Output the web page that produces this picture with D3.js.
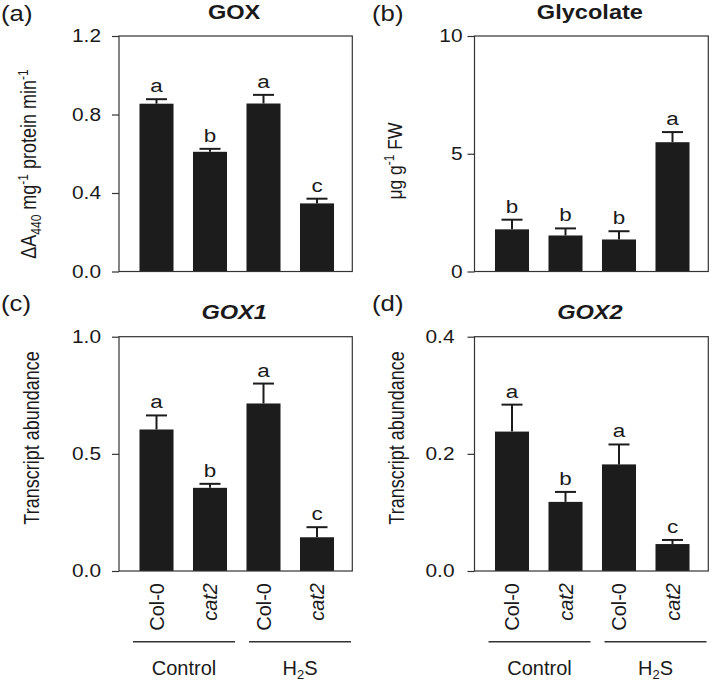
<!DOCTYPE html>
<html><head><meta charset="utf-8">
<script src="https://cdn.jsdelivr.net/npm/d3@7"></script>
<style>
body{margin:0;background:#fff}
svg{display:block}
text{font-family:"Liberation Sans",Arial,Helvetica,sans-serif;fill:#1a1a1a}
</style>
</head><body>
<svg id="chart" width="712" height="682"></svg>
<script>
// ---- data ----
const genotypes = ["Col-0", "cat2", "Col-0", "cat2"];
const treatments = ["Control", "H2S"];
const panelLabels = ["(a)", "(b)", "(c)", "(d)"];
const titles = ["GOX", "Glycolate", "GOX1", "GOX2"];

const goxValues = [0.855, 0.610, 0.856, 0.347];
const goxErrors = [0.023, 0.015, 0.044, 0.024];
const goxLetters = ["a", "b", "a", "c"];
const goxTicks = [0, 0.4, 0.8, 1.2];

const glycolateValues = [1.79, 1.53, 1.36, 5.49];
const glycolateErrors = [0.41, 0.30, 0.35, 0.43];
const glycolateLetters = ["b", "b", "b", "a"];
const glycolateTicks = [0, 5, 10];

const gox1Values = [0.604, 0.355, 0.715, 0.144];
const gox1Errors = [0.060, 0.017, 0.085, 0.043];
const gox1Letters = ["a", "b", "a", "c"];
const gox1Ticks = [0, 0.5, 1.0];

const gox2Values = [0.238, 0.118, 0.182, 0.046];
const gox2Errors = [0.046, 0.017, 0.034, 0.007];
const gox2Letters = ["a", "b", "a", "c"];
const gox2Ticks = [0, 0.2, 0.4];

// ---- layout ----
const svg = d3.select("#chart");
const SX = 1.18; // horizontal stretch of the original artwork

const panels = [
  {x0: 119, x1: 352.3, yTop: 36, yBot: 271.5, values: goxValues, errors: goxErrors, letters: goxLetters,
   ticks: goxTicks, fmt: d3.format(".1f"), pad: 11, label: panelLabels[0], title: titles[0], italic: false,
   labX: 1, labY: 21, bottom: false},
  {x0: 474.5, x1: 708.3, yTop: 36, yBot: 271.5, values: glycolateValues, errors: glycolateErrors, letters: glycolateLetters,
   ticks: glycolateTicks, fmt: d3.format("d"), pad: 5, label: panelLabels[1], title: titles[1], italic: false,
   labX: 372, labY: 21, bottom: false},
  {x0: 119, x1: 352.3, yTop: 336.7, yBot: 571, values: gox1Values, errors: gox1Errors, letters: gox1Letters,
   ticks: gox1Ticks, fmt: d3.format(".1f"), pad: 11, label: panelLabels[2], title: titles[2], italic: true,
   labX: 1, labY: 311, bottom: true},
  {x0: 474.5, x1: 708.3, yTop: 336.7, yBot: 571, values: gox2Values, errors: gox2Errors, letters: gox2Letters,
   ticks: gox2Ticks, fmt: d3.format(".1f"), pad: 13, label: panelLabels[3], title: titles[3], italic: true,
   labX: 372, labY: 311, bottom: true}
];

function stretched(sel, x, y) {
  return sel.attr("transform", `translate(${x},${y}) scale(${SX},1)`);
}

panels.forEach(p => {
  const g = svg.append("g");
  const y = d3.scaleLinear().domain([p.ticks[0], p.ticks[p.ticks.length - 1]]).range([p.yBot, p.yTop]);
  const x = d3.scaleBand().domain(d3.range(p.values.length))
    .range([p.x0 + 10.75, p.x0 + 224.75]).paddingInner(0.364).paddingOuter(0.182);
  const bw = x.bandwidth();

  // bars
  g.selectAll("rect.bar").data(p.values).join("rect")
    .attr("class", "bar")
    .attr("x", (d, i) => x(i)).attr("width", bw)
    .attr("y", d => y(d)).attr("height", d => p.yBot - y(d))
    .attr("fill", "#1c1c1c");

  // error bars
  p.values.forEach((v, i) => {
    const cx = x(i) + bw / 2, top = y(v + p.errors[i]);
    g.append("line").attr("x1", cx).attr("x2", cx).attr("y1", y(v)).attr("y2", top)
      .attr("stroke", "#1c1c1c").attr("stroke-width", 2);
    g.append("line").attr("x1", cx - 10.5).attr("x2", cx + 10.5).attr("y1", top).attr("y2", top)
      .attr("stroke", "#1c1c1c").attr("stroke-width", 2);
    stretched(g.append("text"), cx, top - 7)
      .attr("text-anchor", "middle").style("font-size", "19px").text(p.letters[i]);
  });

  // frame
  g.append("rect").attr("x", p.x0).attr("y", p.yTop).attr("width", p.x1 - p.x0).attr("height", p.yBot - p.yTop)
    .attr("fill", "none").attr("stroke", "#333").attr("stroke-width", 1.2);

  // y axis
  const ax = g.append("g").attr("transform", `translate(${p.x0},0)`)
    .call(d3.axisLeft(y).tickValues(p.ticks).tickSize(7).tickPadding(p.pad).tickFormat(p.fmt));
  ax.select(".domain").remove();
  ax.selectAll(".tick line").attr("stroke", "#333").attr("stroke-width", 1.2);
  ax.selectAll(".tick text").each(function () {
    const t = d3.select(this);
    const tx = +t.attr("x");
    t.attr("x", 0).attr("transform", `translate(${tx},0) scale(${SX},1)`)
      .attr("fill", "#1a1a1a").style("font-size", "17.7px").style("font-family", '"Liberation Sans",Arial,sans-serif');
  });

  // title
  stretched(g.append("text"), (p.x0 + p.x1) / 2 - 1.5, 18.5 + (p.yTop - 36))
    .attr("text-anchor", "middle").style("font-size", "20px").style("font-weight", "bold")
    .style("font-style", p.italic ? "italic" : "normal").text(p.title);

  // panel label
  svg.append("text").attr("transform", `translate(${p.labX},${p.labY}) scale(1.12,1)`)
    .style("font-size", "23px").text(p.label);

  // bottom category labels
  if (p.bottom) {
    genotypes.forEach((gn, i) => {
      const cx = x(i) + bw / 2;
      g.append("text").attr("transform", `translate(${cx},${p.yBot + 12}) rotate(-90)`)
        .attr("text-anchor", "end").attr("dy", "0.36em")
        .style("font-size", "20px").style("font-style", gn === "cat2" ? "italic" : "normal").text(gn);
    });
    treatments.forEach((t, k) => {
      const lx0 = p.x0 + 14 + k * 116, lx1 = p.x0 + 116 + k * 116;
      g.append("line").attr("x1", lx0).attr("x2", lx1).attr("y1", 641.7).attr("y2", 641.7)
        .attr("stroke", "#333").attr("stroke-width", 1.4);
      const tx = g.append("text").attr("x", (lx0 + lx1) / 2).attr("y", 675)
        .attr("text-anchor", "middle").style("font-size", "20px");
      if (t === "H2S") {
        tx.append("tspan").text("H");
        tx.append("tspan").attr("dy", 3.5).style("font-size", "13px").text("2");
        tx.append("tspan").attr("dy", -3.5).text("S");
      } else tx.text(t);
    });
  }
});

// y-axis titles (rotated)
function yTitle(bx, cy) {
  return svg.append("text").attr("transform", `translate(${bx},${cy}) scale(${SX},1) rotate(-90)`)
    .attr("text-anchor", "middle").style("font-size", "18px");
}
const ta = yTitle(36, 164);
ta.append("tspan").text("ΔA");
ta.append("tspan").attr("dy", 4).style("font-size", "12px").text("440");
ta.append("tspan").attr("dy", -4).text(" mg");
ta.append("tspan").attr("dy", -7).style("font-size", "12px").text("-1");
ta.append("tspan").attr("dy", 7).text(" protein min");
ta.append("tspan").attr("dy", -7).style("font-size", "12px").text("-1");

const tb = yTitle(402, 161).style("font-size", "17.5px");
tb.append("tspan").text("μg g");
tb.append("tspan").attr("dy", -7).style("font-size", "12px").text("-1");
tb.append("tspan").attr("dy", 7).text(" FW");

yTitle(39, 438).text("Transcript abundance");
yTitle(403.5, 438).text("Transcript abundance");
</script>
</body></html>
